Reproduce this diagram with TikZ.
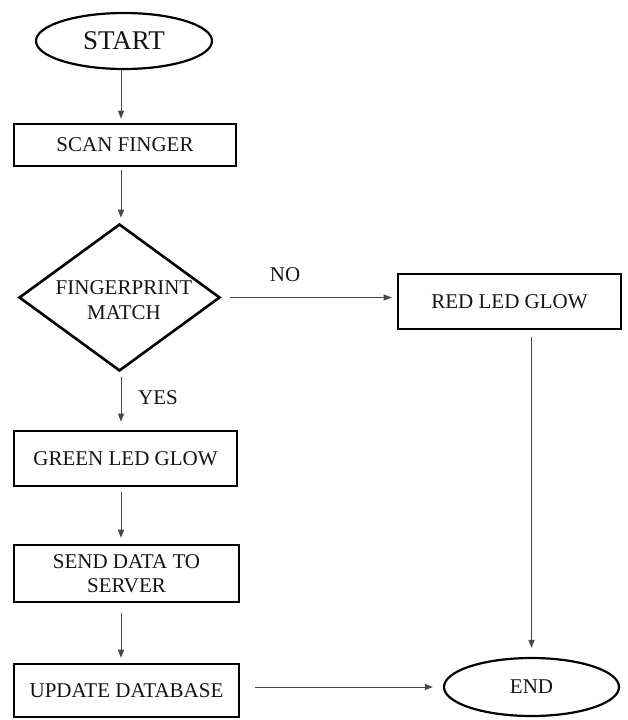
\documentclass[tikz,border=0pt]{standalone}
\usepackage{fontspec}
\setmainfont{Liberation Serif}
\usetikzlibrary{shapes.geometric,arrows.meta}
\begin{document}
\begin{tikzpicture}[x=1pt,y=-1pt,
  txt/.style={font=\fontsize{21}{24.5}\selectfont, text=black!92},
  box/.style={txt, draw=black, line width=2.6pt, rectangle, inner sep=0pt, align=center},
  term/.style={txt, draw=black, line width=2.2pt, ellipse, inner sep=0pt},
  dec/.style={txt, draw=black, line width=2.6pt, diamond, inner sep=0pt},
  conn/.style={draw=black!72, line width=1pt, -{Triangle[length=8pt,width=6pt]}}]
\useasboundingbox (0,0) rectangle (627,720);
\coordinate (col) at (121,0);
\node[term, minimum width=176pt, minimum height=56pt, font=\fontsize{27}{30}\selectfont] (start) at (124,41) {START};
\node[box, minimum width=222pt, minimum height=42pt] (scan) at (125,145) {SCAN FINGER};
\node[dec, minimum width=201pt, minimum height=147pt] (diam) at (119.5,297.5)
  {\makebox[0pt]{\hspace*{9pt}\raisebox{-10pt}[0pt][0pt]{\begin{tabular}{@{}c@{}}FINGERPRINT\\MATCH\end{tabular}}}};
\node[box, minimum width=223pt, minimum height=55pt] (red) at (509.5,301.5) {RED LED GLOW};
\node[box, minimum width=223pt, minimum height=55pt] (green) at (125.5,458.5) {GREEN LED GLOW};
\node[box, minimum width=225pt, minimum height=57pt] (send) at (126.5,573.5) {SEND DATA TO\\SERVER};
\node[box, minimum width=225pt, minimum height=53pt] (upd) at (126.5,690.5) {UPDATE DATABASE};
\node[term, minimum width=175pt, minimum height=58pt] (endn) at (531.5,687) {END};
\node[txt] (nolbl) at (285,275) {NO};
\node[txt] (yeslbl) at (158,398) {YES};
\draw[conn, shorten >=4pt] (start.south -| col) -- (scan.north -| col);
\draw[conn, shorten <=3pt, shorten >=5pt] (scan.south -| col) -- (diam.north -| col);
\draw[conn, shorten <=5pt, shorten >=8pt] (diam.south -| col) -- (green.north -| col);
\draw[conn, shorten <=5pt, shorten >=6pt] (green.south -| col) -- (send.north -| col);
\draw[conn, shorten <=10pt, shorten >=5pt] (send.south -| col) -- (upd.north -| col);
\draw[conn, shorten <=9pt, shorten >=5pt] (diam.east) -- (diam.east -| red.west);
\draw[conn, shorten <=7pt, shorten >=9pt] (red.south -| endn) -- (endn.north);
\draw[conn, shorten <=15pt, shorten >=10pt] (upd.east |- endn) -- (endn.west);
\end{tikzpicture}
\end{document}
